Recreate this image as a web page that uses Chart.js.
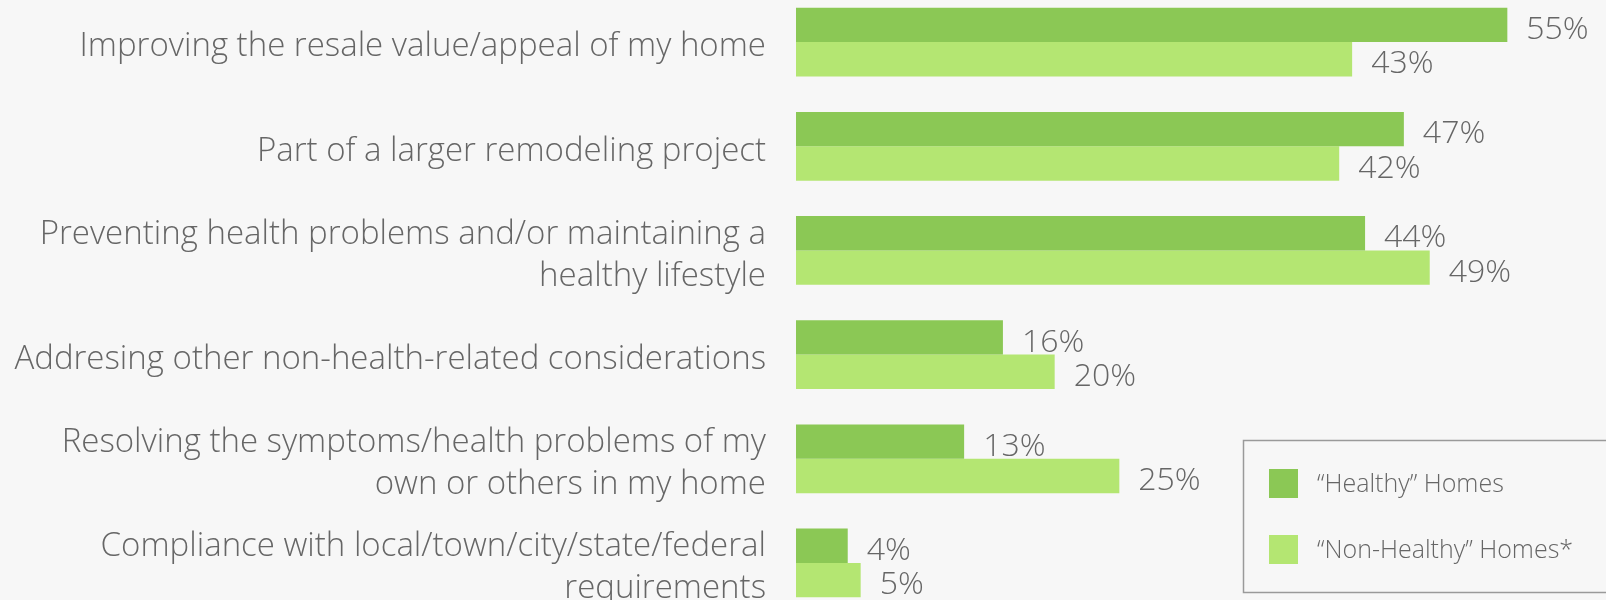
<!DOCTYPE html>
<html>
<head>
<meta charset="utf-8">
<script src="https://cdn.jsdelivr.net/npm/chart.js"></script>
<style>
    html, body { margin: 0; padding: 0; background: #f7f7f7; overflow: hidden; }
    #wrap { position: absolute; left: 0; top: -10px; width: 1606px; height: 625px; }
</style>
</head>
<body>
<div id="wrap"><canvas id="reasons-chart"></canvas></div>
<script>
// Chart data
const categories = [
    'Improving the resale value/appeal of my home',
    'Part of a larger remodeling project',
    ['Preventing health problems and/or maintaining a', 'healthy lifestyle'],
    'Addresing other non-health-related considerations',
    ['Resolving the symptoms/health problems of my', 'own or others in my home'],
    ['Compliance with local/town/city/state/federal', 'requirements']
];
const seriesNames = ['\u201CHealthy\u201D Homes', '\u201CNon-Healthy\u201D Homes*'];
const healthyValues = [55, 47, 44, 16, 13, 4];
const nonHealthyValues = [43, 42, 49, 20, 25, 5];

const textColor = '#666666';
const fontFamily = '"Open Sans", Lato, sans-serif';

// Category labels drawn by hand so they can sit a little lower than the tick centre
const categoryLabels = {
    id: 'categoryLabels',
    afterDraw(chart) {
        const ctx = chart.ctx;
        const yScale = chart.scales.y;
        ctx.save();
        ctx.fillStyle = textColor;
        ctx.font = '300 33px ' + fontFamily;
        ctx.textAlign = 'right';
        ctx.textBaseline = 'middle';
        chart.data.labels.forEach((label, i) => {
            const lines = Array.isArray(label) ? label : [label];
            const y = yScale.getPixelForValue(i) + 5 - (lines.length - 1) * 21;
            lines.forEach((line, k) => ctx.fillText(line, 766, y + k * 42));
        });
        ctx.restore();
    }
};

// Draws "55%" etc. to the right of each bar
const valueLabels = {
    id: 'valueLabels',
    afterDatasetsDraw(chart) {
        const ctx = chart.ctx;
        ctx.save();
        ctx.fillStyle = textColor;
        ctx.font = '300 32px ' + fontFamily;
        ctx.textAlign = 'left';
        ctx.textBaseline = 'middle';
        chart.data.datasets.forEach((ds, i) => {
            chart.getDatasetMeta(i).data.forEach((bar, j) => {
                ctx.fillText(ds.data[j] + '%', bar.x + 19, bar.y + 5);
            });
        });
        ctx.restore();
    }
};

// Boxed legend in the lower right corner
const boxLegend = {
    id: 'boxLegend',
    afterDraw(chart) {
        const ctx = chart.ctx;
        ctx.save();
        ctx.strokeStyle = '#9a9a9a';
        ctx.lineWidth = 1.5;
        ctx.strokeRect(1243.5, 450.5, 400, 152);
        ctx.font = '300 25px ' + fontFamily;
        ctx.textBaseline = 'middle';
        chart.data.datasets.forEach((ds, i) => {
            const y = 479 + i * 66;
            ctx.fillStyle = ds.backgroundColor;
            ctx.fillRect(1269, y, 29, 29);
            ctx.fillStyle = textColor;
            ctx.fillText(ds.label, 1317, y + 16);
        });
        ctx.restore();
    }
};

const ctx = document.getElementById('reasons-chart').getContext('2d');
const reasonsChart = new Chart(ctx, {
    type: 'bar',
    data: {
        labels: categories,
        datasets: [{
            label: seriesNames[0],
            data: healthyValues,
            backgroundColor: '#8bc855',
            borderWidth: 0
        }, {
            label: seriesNames[1],
            data: nonHealthyValues,
            backgroundColor: '#b4e672',
            borderWidth: 0
        }]
    },
    options: {
        indexAxis: 'y',
        responsive: true,
        maintainAspectRatio: false,
        animation: false,
        layout: { padding: { left: 0, right: 34, top: 0, bottom: 0 } },
        datasets: {
            bar: { categoryPercentage: 0.66, barPercentage: 1 }
        },
        scales: {
            x: { display: false, min: 0, max: 60 },
            y: {
                grid: { display: false, drawTicks: false },
                border: { display: false },
                ticks: { display: false },
                afterFit(scale) {
                    // fixed label column, and no extra room above/below
                    scale.width = 796;
                    scale.paddingTop = 0;
                    scale.paddingBottom = 0;
                }
            }
        },
        plugins: {
            legend: { display: false },
            tooltip: { enabled: false }
        }
    },
    plugins: [categoryLabels, valueLabels, boxLegend]
});
</script>
</body>
</html>
